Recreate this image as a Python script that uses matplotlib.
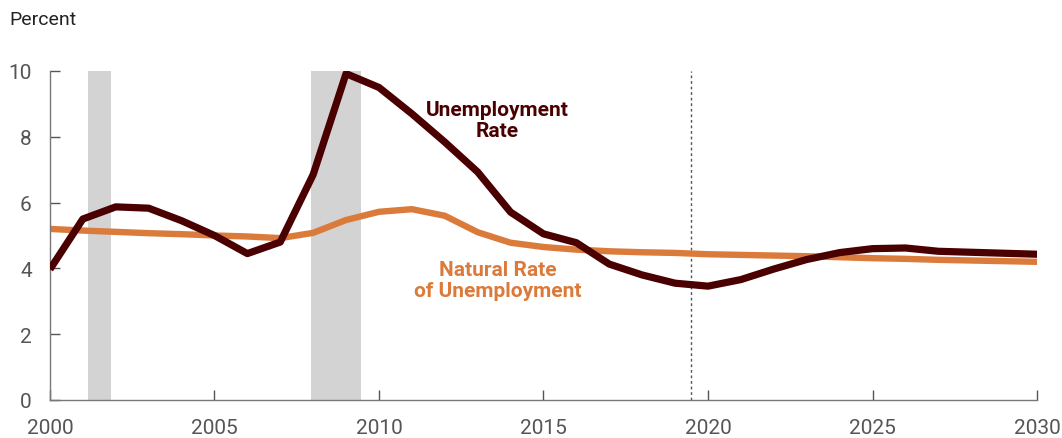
import matplotlib.pyplot as plt
import numpy as np

years = list(range(2000, 2031))
unemployment = [3.97, 5.5, 5.87, 5.83, 5.45, 5.0, 4.45, 4.8, 6.85, 9.92, 9.5,
                8.7, 7.84, 6.93, 5.71, 5.05, 4.78, 4.13, 3.8, 3.55, 3.46,
                3.66, 3.98, 4.27, 4.48, 4.6, 4.62, 4.52, 4.49, 4.46, 4.43]
natural_rate = [5.2, 5.15, 5.11, 5.07, 5.04, 5.0, 4.97, 4.92, 5.08, 5.47, 5.72,
                5.8, 5.6, 5.1, 4.78, 4.65, 4.57, 4.52, 4.49, 4.47, 4.43,
                4.41, 4.39, 4.37, 4.34, 4.31, 4.29, 4.26, 4.24, 4.22, 4.2]
recessions = [(2001.17, 2001.87), (2007.92, 2009.45)]
projection_start = 2019.48

dark = '#4a0000'
orange = '#db7b3b'
grey = '#555555'

plt.rcParams['font.family'] = ['Roboto', 'DejaVu Sans']

fig = plt.figure(figsize=(10.62, 4.39), dpi=100)
ax = fig.add_axes([0.047, 0.0866, 0.9295, 0.7494])

for start, end in recessions:
    ax.axvspan(start, end, color='#d3d3d3', lw=0, zorder=0)

ax.axvline(projection_start, color='#555555', lw=1, ls=(0, (2, 2)), zorder=1)

ax.plot(years, natural_rate, color=orange, lw=4.6, solid_capstyle='butt', zorder=2)
ax.plot(years, unemployment, color=dark, lw=5.2, solid_capstyle='butt', zorder=3)

ax.text(2013.6, 8.5, 'Unemployment\nRate', color=dark, fontsize=15, fontweight='bold',
        ha='center', va='center', linespacing=1.15)
ax.text(2013.6, 3.65, 'Natural Rate\nof Unemployment', color=orange, fontsize=15,
        fontweight='bold', ha='center', va='center', linespacing=1.15)

ax.set_xlim(2000, 2030)
ax.set_ylim(0, 10)
ax.set_xticks(range(2000, 2031, 5))
ax.set_yticks(range(0, 11, 2))
ax.tick_params(direction='in', length=7, width=1, colors=grey, labelsize=15)
ax.tick_params(axis='x', pad=13)
ax.tick_params(axis='y', pad=13)
for side in ['top', 'right']:
    ax.spines[side].set_visible(False)
for side in ['left', 'bottom']:
    ax.spines[side].set_color('#777777')
    ax.spines[side].set_linewidth(1)

fig.text(0.009, 0.955, 'Percent', fontsize=14, color='#222222', ha='left', va='center')

fig.savefig('out.png', dpi=100)
